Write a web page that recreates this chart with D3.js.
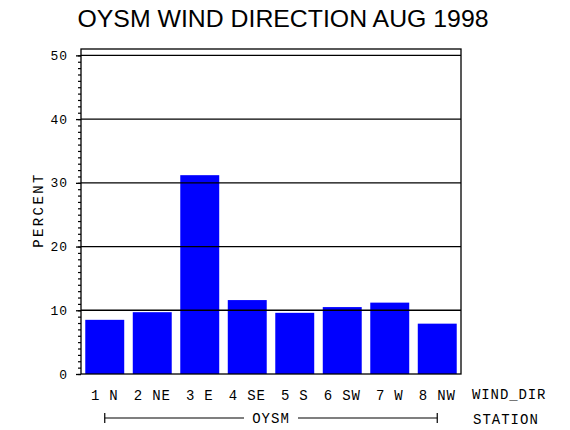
<!DOCTYPE html>
<html>
<head>
<meta charset="utf-8">
<script src="https://cdn.jsdelivr.net/npm/d3@7"></script>
<style>
  body { margin: 0; background: #fff; }
  text { font-family: "Liberation Mono", "DejaVu Sans Mono", monospace; fill: #000; }
</style>
</head>
<body>
<svg id="chart"></svg>
<script>
const svg_w = 570;
const svg_h = 430;

// datos
const dir_labels = ["1 N", "2 NE", "3 E", "4 SE", "5 S", "6 SW", "7 W", "8 NW"];
const percent = [8.5, 9.7, 31.2, 11.6, 9.6, 10.5, 11.2, 7.9];
const y_ticks = [0, 10, 20, 30, 40, 50];
const y_minor = d3.range(0, 51, 1);
const title = "OYSM WIND DIRECTION AUG 1998";
const station = "OYSM";

// margenes del cuadro de la grafica
const box = {l: 81, r: 461, t: 49, b: 374};
const small_font = "'Liberation Mono', 'DejaVu Sans Mono', monospace";

let svg = d3.select("#chart")
  .attr("width", svg_w)
  .attr("height", svg_h);

let x_scale = d3.scaleBand()
  .domain(dir_labels)
  .range([box.l, box.r])
  .paddingInner(0.18)
  .paddingOuter(0.09);

let y_scale = d3.scaleLinear()
  .domain([0, 51])
  .range([box.b, box.t]);

// titulo
svg.append("text")
  .attr("x", 283)
  .attr("y", 27)
  .attr("text-anchor", "middle")
  .attr("textLength", 411)
  .attr("lengthAdjust", "spacingAndGlyphs")
  .style("font-family", "'Liberation Sans', Arial, sans-serif")
  .style("font-size", "24px")
  .text(title);

// barras
svg.append("g")
  .selectAll("rect")
  .data(percent)
  .enter()
  .append("rect")
  .attr("x", (d, i) => x_scale(dir_labels[i]))
  .attr("y", d => y_scale(d))
  .attr("width", x_scale.bandwidth())
  .attr("height", d => box.b - y_scale(d))
  .attr("fill", "#0000ff");

// lineas de referencia encima de las barras
svg.append("g")
  .selectAll("line")
  .data(y_ticks.filter(d => d > 0))
  .enter()
  .append("line")
  .attr("x1", box.l)
  .attr("x2", box.r)
  .attr("y1", d => y_scale(d))
  .attr("y2", d => y_scale(d))
  .attr("stroke", "#000")
  .attr("stroke-width", 1.3);

// cuadro
svg.append("rect")
  .attr("x", box.l)
  .attr("y", box.t)
  .attr("width", box.r - box.l)
  .attr("height", box.b - box.t)
  .attr("fill", "none")
  .attr("stroke", "#000")
  .attr("stroke-width", 1.3);

// eje y: marcas menores
svg.append("g")
  .attr("transform", `translate(${box.l},0)`)
  .call(d3.axisLeft(y_scale).tickValues(y_minor).tickSize(3).tickFormat(""))
  .call(g => g.select(".domain").remove())
  .call(g => g.selectAll("line").attr("stroke-width", 1.2));

// eje y: marcas mayores
svg.append("g")
  .attr("transform", `translate(${box.l},0)`)
  .call(d3.axisLeft(y_scale).tickValues(y_ticks).tickSize(5).tickPadding(8))
  .call(g => g.select(".domain").remove())
  .call(g => g.selectAll("line").attr("stroke-width", 1.3))
  .call(g => g.selectAll("text")
    .style("font-family", small_font)
    .style("font-size", "13px")
    .style("letter-spacing", "1px"));

svg.append("text")
  .attr("transform", "translate(43,210) rotate(-90)")
  .attr("text-anchor", "middle")
  .style("font-size", "14px")
  .style("letter-spacing", "2.4px")
  .text("PERCENT");

// eje x
svg.append("g")
  .attr("transform", `translate(0,${box.b})`)
  .call(d3.axisBottom(x_scale).tickSize(0).tickPadding(16))
  .call(g => g.select(".domain").remove())
  .call(g => g.selectAll("text")
    .style("font-family", small_font)
    .style("font-size", "14px")
    .style("letter-spacing", "0.8px"));

svg.append("text")
  .attr("x", 472)
  .attr("y", 399)
  .style("font-size", "14px")
  .style("letter-spacing", "0.9px")
  .text("WIND_DIR");

svg.append("text")
  .attr("x", 473)
  .attr("y", 424)
  .style("font-size", "14px")
  .style("letter-spacing", "1px")
  .text("STATION");

// corchete de la estacion
let x0 = x_scale(dir_labels[0]) + x_scale.bandwidth() / 2;
let x1 = x_scale(dir_labels[dir_labels.length - 1]) + x_scale.bandwidth() / 2;
let xm = (x0 + x1) / 2;
let by = 418;
let bracket = svg.append("g")
  .attr("stroke", "#000")
  .attr("stroke-width", 1.2);
bracket.append("line").attr("x1", x0).attr("x2", xm - 27).attr("y1", by).attr("y2", by);
bracket.append("line").attr("x1", xm + 27).attr("x2", x1).attr("y1", by).attr("y2", by);
bracket.append("line").attr("x1", x0).attr("x2", x0).attr("y1", by - 5).attr("y2", by + 5);
bracket.append("line").attr("x1", x1).attr("x2", x1).attr("y1", by - 5).attr("y2", by + 5);

svg.append("text")
  .attr("x", xm)
  .attr("y", 423)
  .attr("text-anchor", "middle")
  .style("font-size", "14px")
  .style("letter-spacing", "1px")
  .text(station);
</script>
</body>
</html>
